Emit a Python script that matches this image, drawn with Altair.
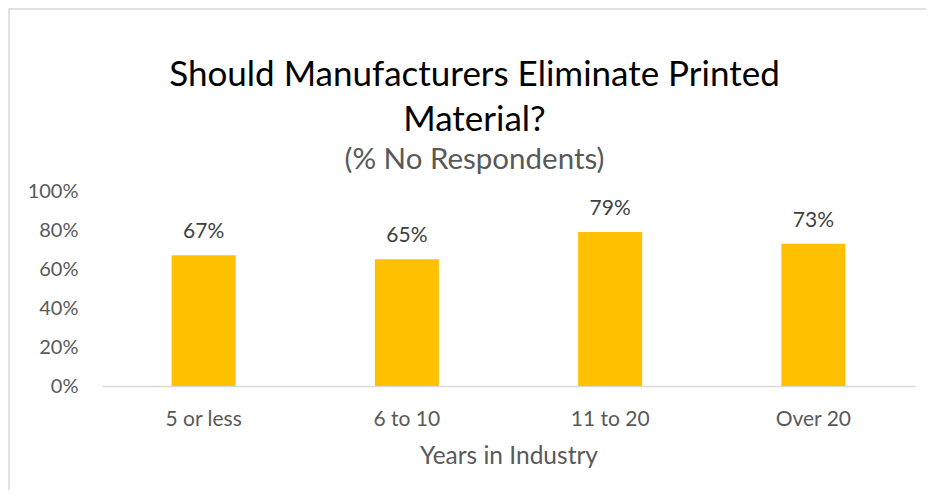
import altair as alt
import pandas as pd

categories = ["5 or less", "6 to 10", "11 to 20", "Over 20"]
values = [0.67, 0.65, 0.79, 0.73]
labels = ["67%", "65%", "79%", "73%"]
y_ticks = [0, 0.2, 0.4, 0.6, 0.8, 1.0]

df = pd.DataFrame({"cat": categories, "val": values, "lab": labels})

FONT = "Lato"
GREY = "#595959"

x_axis = alt.Axis(labelAngle=0, labelFontSize=21, labelColor=GREY, labelFont=FONT,
                  titleFontSize=24.5, titleColor=GREY, titleFont=FONT, titleFontWeight="normal",
                  labelPadding=22, titlePadding=15,
                  domainColor="#D9D9D9", domainWidth=1.5, ticks=False)
y_axis = alt.Axis(format="%", values=y_ticks, labelFontSize=20, labelColor=GREY, labelFont=FONT,
                  labelOverlap=False, labelSeparation=0, labelBound=False,
                  labelPadding=24, domain=False, ticks=False, grid=False)

x_enc = alt.X("cat:N", sort=categories, title="Years in Industry",
              scale=alt.Scale(paddingInner=0.685, paddingOuter=0.3425), axis=x_axis)
y_enc = alt.Y("val:Q", title=None, scale=alt.Scale(domain=[0, 1]), axis=y_axis)

base = alt.Chart(df)

bars = base.mark_bar(color="#FFC000").encode(x=x_enc, y=y_enc)

text = base.mark_text(fontSize=21, color="#404040", font=FONT, dy=-23, baseline="middle").encode(
    x=x_enc, y=y_enc, text="lab:N",
)

frame = alt.Chart(pd.DataFrame({"a": [0]})).mark_rect(
    fill=None, stroke="#D9D9D9", strokeWidth=1.5
).encode(
    x=alt.value(-93), x2=alt.value(860), y=alt.value(-182), y2=alt.value(340)
)

chart = alt.layer(frame, bars, text).properties(
    width=813,
    height=195,
    autosize=alt.AutoSizeParams(type="none"),
    padding={"left": 94, "top": 183, "right": 11, "bottom": 104},
    title=alt.TitleParams(
        text=["Should Manufacturers Eliminate Printed", "Material?"],
        subtitle="(% No Respondents)",
        anchor="middle", dx=-34,
        font=FONT, fontSize=35, fontWeight="normal", color="#000000", lineHeight=45,
        subtitleFont=FONT, subtitleFontSize=29.5, subtitleColor=GREY, subtitlePadding=8,
        offset=-166,
    ),
).configure_view(stroke=None).configure_axis(labelOverlap=False)

chart.save("out.html", embed_options={"renderer": "svg", "actions": False})
